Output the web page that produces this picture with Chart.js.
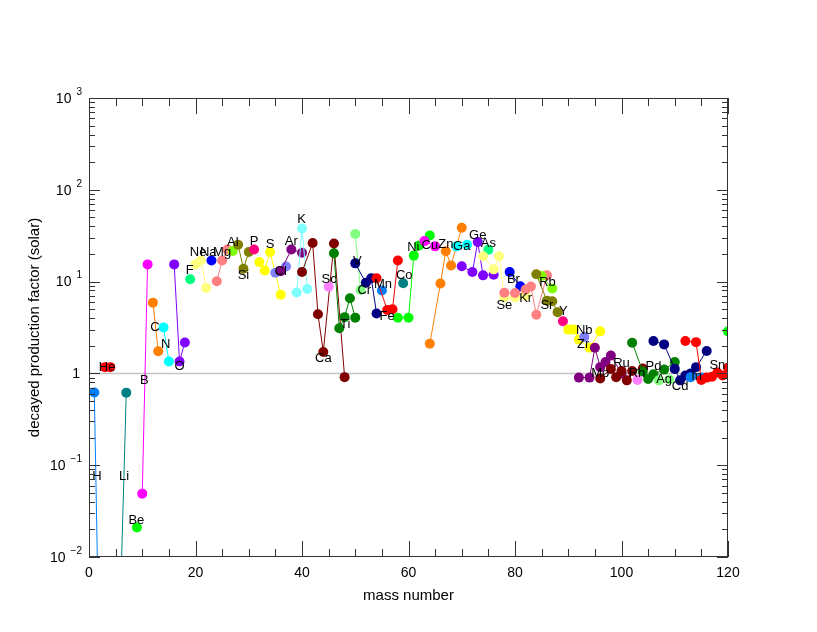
<!DOCTYPE html>
<html>
<head>
<meta charset="utf-8">
<script src="https://cdn.jsdelivr.net/npm/chart.js@4.4.1/dist/chart.umd.min.js"></script>
<style>
  html, body { margin: 0; padding: 0; background: #fff; }
</style>
</head>
<body>
<canvas id="chart" width="817" height="632"></canvas>
<script>
// elements that have isotopes between A=1 and A=120
const elementNames = ["H","He","Li","Be","B","C","N","O","F","Ne","Na","Mg","Al","Si","P","S","Cl","Ar","K","Ca",
  "Sc","Ti","V","Cr","Mn","Fe","Co","Ni","Cu","Zn","Ga","Ge","As","Se","Br","Kr","Rb","Sr","Y","Zr",
  "Nb","Mo","Ru","Rh","Pd","Ag","Cd","In","Sn","Te"];
const elementColors = ["#0080ff","#ff0000","#008080","#00ff00","#ff00ff","#ff8000","#00ffff","#8000ff","#00ff80","#ffff80",
  "#0000ff","#ff8080","#80ff00","#808000","#ff0080","#ffff00","#8080ff","#800080","#80ffff","#800000",
  "#ff80ff","#008000","#80ff80","#000080","#0080ff","#ff0000","#008080","#00ff00","#ff00ff","#ff8000",
  "#00ffff","#8000ff","#00ff80","#ffff80","#0000ff","#ff8080","#80ff00","#808000","#ff0080","#ffff00",
  "#8080ff","#800080","#800000","#ff80ff","#008000","#80ff80","#000080","#0080ff","#ff0000","#00ff00"];

// mass numbers of the stable isotopes, one list per element
const isoMass = [
  [1,2],[3,4],[6,7],[9],[10,11],[12,13],[14,15],[16,17,18],[19],[20,21,22],
  [23],[24,25,26],[27],[28,29,30],[31],[32,33,34,36],[35,37],[36,38,40],[39,40,41],[40,42,43,44,46,48],
  [45],[46,47,48,49,50],[50,51],[50,52,53,54],[55],[54,56,57,58],[59],[58,60,61,62,64],[63,65],[64,66,67,68,70],
  [69,71],[70,72,73,74,76],[75],[74,76,77,78,80,82],[79,81],[78,80,82,83,84,86],[85,87],[84,86,87,88],[89],[90,91,92,94,96],
  [93],[92,94,95,96,97,98,100],[96,98,99,100,101,102,104],[103],[102,104,105,106,108,110],[107,109],
  [106,108,110,111,112,113,114,116],[113,115],[112,114,115,116,117,118,119,120],[120]
];
// decayed production factors (solar), same layout
const isoFactor = [
  [0.62,0.0004],[1.17,1.17],[0.0054,0.617],[0.021],[0.049,15.4],[5.9,1.74],[3.17,1.35],[15.4,1.35,2.17],[10.6],[15.4,17.0,8.5],
  [17.0],[10.1,17.0,22.4],[21.5],[25.2,13.8,21.0],[22.4],[16.3,13.2,21.0,7.2],[12.5,14.6],[13.0,22.4,20.6],[7.6,38.0,8.3],[12.7,26.3,4.4,1.71,26.0,0.91],
  [8.8],[20.4,3.1,4.1,6.6,4.05],[33.0,8.1],[15.8,9.7,10.9,4.5],[8.0],[10.9,4.9,5.0,17.0],[9.6],[4.04,4.04,19.2,24.8,31.8],[27.6,24.2],[2.1,9.55,21.4,15.0,38.6],
  [24.2,25.2],[14.7,12.7,27.0,11.7,11.9],[22.3],[18.9,13.6,18.9,6.7,6.7,7.0],[12.7,8.9],[7.56,7.5,8.2,8.85,4.36,11.7],[11.5,8.4],[12.0,6.2,6.1,4.65],[3.7],[3.0,3.0,2.33,1.9,2.87],
  [2.49],[0.9,0.9,1.9,1.17,1.33,1.57,1.0],[0.88,1.12,0.91,1.06,0.84,1.06,1.13],[0.85],[2.16,1.05,0.87,0.98,1.1,1.33],[0.84,0.86],
  [2.25,2.07,1.12,0.84,0.95,1.0,1.17,1.75],[0.91,0.9],[2.25,2.19,0.85,0.9,0.92,1.02,0.95,1.15],[2.87]
];
// where each element name sits (mass number, factor)
const labelMass = [1.5,3.4,6.6,8.9,10.4,12.4,14.4,17.0,18.9,20.5,22.4,25.0,27.0,29.0,31.0,34.0,36.0,38.0,39.9,44.0,
  45.1,48.1,50.4,51.7,55.2,56.0,59.2,60.9,64.0,67.0,70.0,73.0,75.0,78.0,79.7,82.0,86.1,86.0,89.1,92.8,
  93.0,96.0,100.0,102.9,106.0,108.0,111.0,114.1,118.0,null];
const labelFactor = [0.0755,1.16,0.0755,0.025,0.84,3.17,2.07,1.18,13.1,20.6,20.6,20.6,26.4,11.8,27.6,25.4,13.0,27.2,47,1.45,
  10.6,3.45,16.5,7.95,9.4,4.15,11.6,23.4,25,25.2,24.4,32.2,26,5.46,10.6,6.55,9.7,5.46,4.7,2.07,
  2.97,1.0,1.28,1.0,1.18,0.85,0.72,0.92,1.23,null];

const xTicks = [0,20,40,60,80,100,120];
const yTicks = [0.01,0.1,1,10,100,1000];
const yTickBase = ["10","10","1","10","10","10"];
const yTickExp = ["\u22122","\u22121","","1","2","3"];

const FONT = '"Liberation Sans", Arial, Helvetica, sans-serif';
const INK = "#333";

const datasets = elementNames.map((name, i) => ({
  label: name,
  data: isoMass[i].map((m, j) => ({ x: m, y: isoFactor[i][j] })),
  borderColor: elementColors[i],
  backgroundColor: elementColors[i],
  borderWidth: 1,
  pointRadius: 5,
  pointBorderWidth: 0,
  pointHoverRadius: 5,
  tension: 0,
  order: elementNames.length - i   // later elements on top
}));

const frame = {
  id: "frame",
  beforeDatasetsDraw(chart) {
    const { ctx, chartArea: a, scales: { y } } = chart;
    const py = y.getPixelForValue(1);
    ctx.save();
    ctx.strokeStyle = "#c4c4c4";
    ctx.lineWidth = 1.5;
    ctx.beginPath(); ctx.moveTo(a.left, py); ctx.lineTo(a.right, py); ctx.stroke();
    ctx.restore();
  },
  afterDatasetsDraw(chart) {
    const { ctx, scales: { x, y } } = chart;
    ctx.save();
    ctx.fillStyle = "#000";
    ctx.font = "13px " + FONT;
    ctx.textAlign = "center";
    ctx.textBaseline = "middle";
    elementNames.forEach((n, i) => {
      if (labelMass[i] == null) return;
      ctx.fillText(n, x.getPixelForValue(labelMass[i]), y.getPixelForValue(labelFactor[i]));
    });
    ctx.restore();
  },
  afterDraw(chart) {
    const { ctx, chartArea: a, scales: { x, y } } = chart;
    ctx.save();
    ctx.strokeStyle = INK;
    ctx.lineWidth = 1;
    ctx.strokeRect(a.left + 0.5, a.top + 0.5, a.right - a.left - 1, a.bottom - a.top - 1);
    ctx.beginPath();
    // x ticks, bottom and top, pointing inwards
    for (let v = 0; v <= 120; v += 5) {
      const px = Math.round(x.getPixelForValue(v)) + 0.5;
      const len = v % 20 === 0 ? 16 : 8;
      ctx.moveTo(px, a.bottom); ctx.lineTo(px, a.bottom - len);
      ctx.moveTo(px, a.top); ctx.lineTo(px, a.top + len);
    }
    // y ticks, left and right
    for (let e = -2; e <= 3; e++) {
      for (let m = 1; m <= 9; m++) {
        const v = m * Math.pow(10, e);
        if (v > 1000) break;
        const py = Math.round(y.getPixelForValue(v)) + 0.5;
        const len = m === 1 ? 11 : 6;
        ctx.moveTo(a.left, py); ctx.lineTo(a.left + len, py);
        ctx.moveTo(a.right, py); ctx.lineTo(a.right - len, py);
      }
    }
    ctx.stroke();

    ctx.fillStyle = "#000";
    ctx.font = "14px " + FONT;
    ctx.textAlign = "center";
    ctx.textBaseline = "top";
    xTicks.forEach(v => ctx.fillText(String(v), x.getPixelForValue(v), a.bottom + 9));

    ctx.textBaseline = "middle";
    yTicks.forEach((v, i) => {
      const py = y.getPixelForValue(v);
      let right = a.left - 7;
      if (yTickExp[i]) {
        ctx.font = "10px " + FONT;
        ctx.textAlign = "right";
        ctx.fillText(yTickExp[i], right, py - 6);
        right -= ctx.measureText(yTickExp[i]).width + 5;
      } else {
        right -= 2;
      }
      ctx.font = "14px " + FONT;
      ctx.textAlign = "right";
      ctx.fillText(yTickBase[i], right, py + 1);
    });

    ctx.font = "15px " + FONT;
    ctx.textAlign = "center";
    ctx.fillText("mass number", (a.left + a.right) / 2, a.bottom + 39);
    ctx.translate(35, (a.top + a.bottom) / 2);
    ctx.rotate(-Math.PI / 2);
    ctx.fillText("decayed production factor (solar)", 0, 0);
    ctx.restore();
  }
};

new Chart(document.getElementById("chart"), {
  type: "line",
  data: { datasets },
  options: {
    responsive: false,
    animation: false,
    devicePixelRatio: 1,
    layout: { padding: { left: 89, right: 89, top: 98, bottom: 75 } },
    scales: {
      x: { type: "linear", min: 0, max: 120, display: false },
      y: { type: "logarithmic", min: 0.01, max: 1000, display: false }
    },
    plugins: { legend: { display: false }, tooltip: { enabled: false } }
  },
  plugins: [frame]
});
</script>
</body>
</html>
